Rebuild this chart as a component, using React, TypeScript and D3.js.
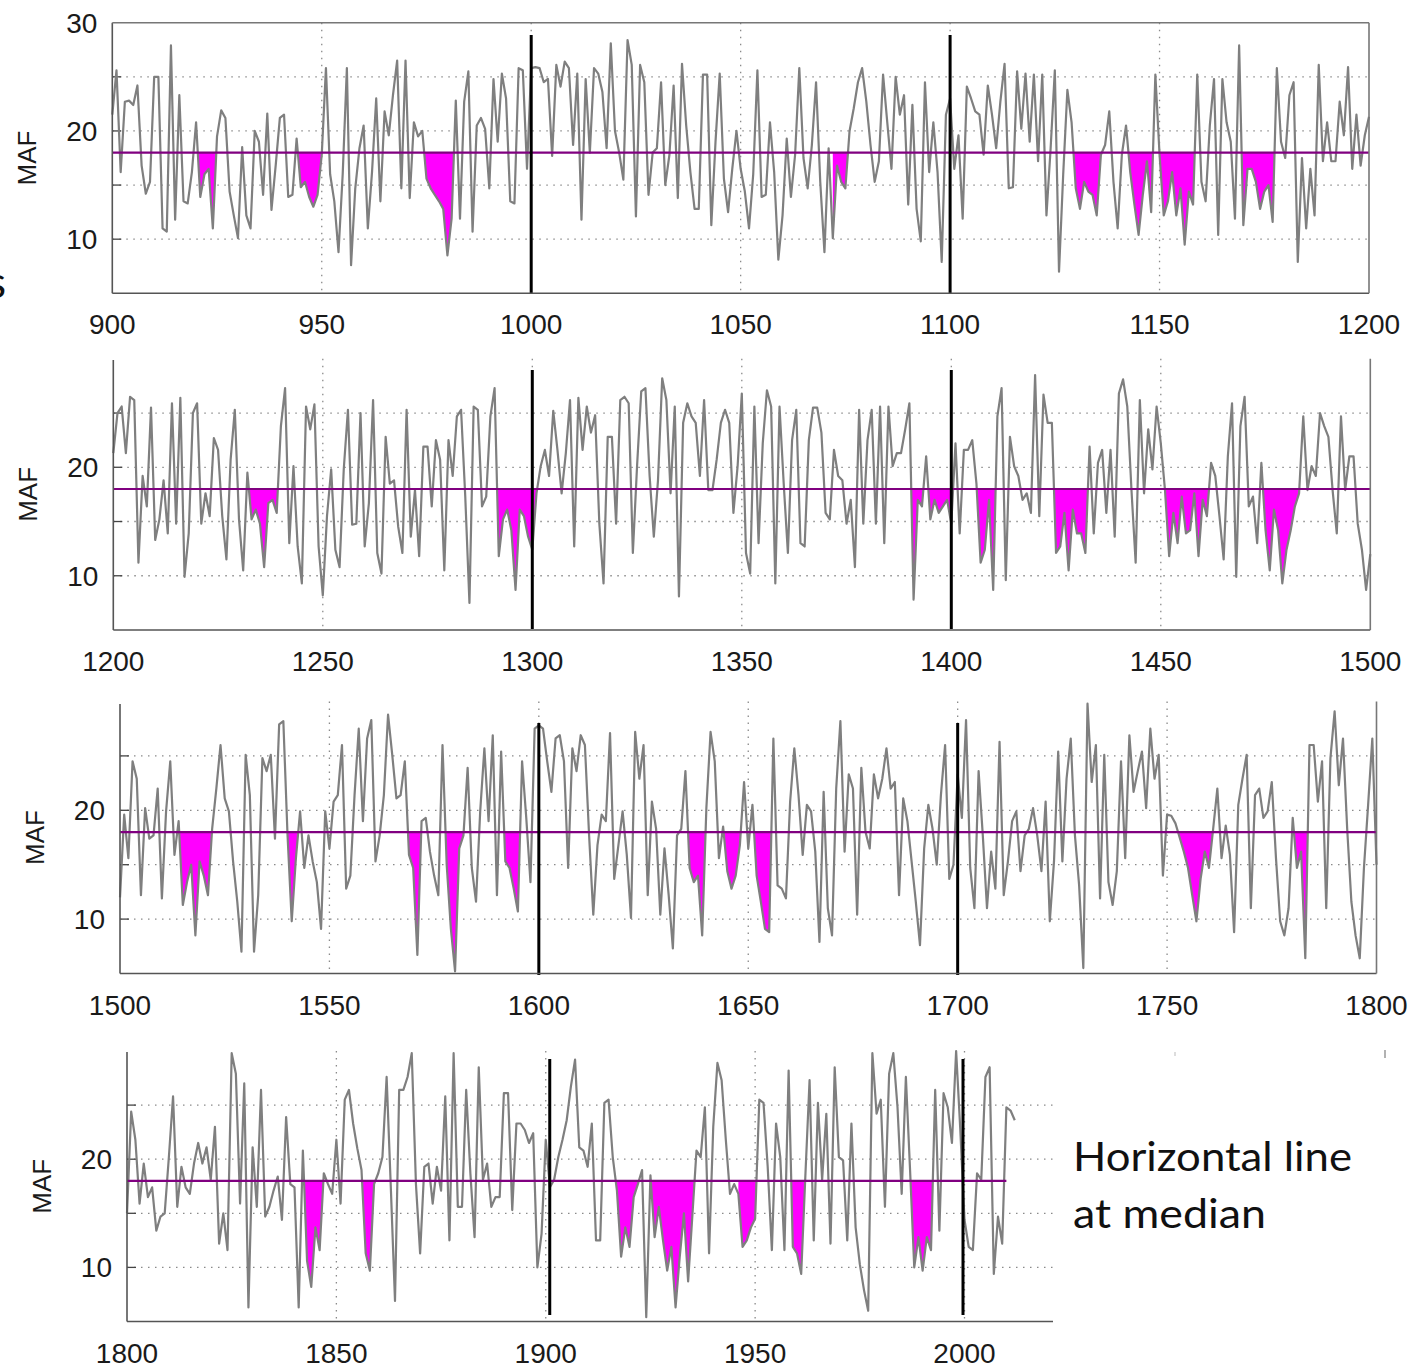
import React from 'react';
import * as d3 from 'd3';

// Annual flow (MAF), one value per year
const flow0900s = [
  21.5, 25.6, 16.2, 22.7, 22.8, 22.4, 24.2, 16.8, 14.2, 15.3,
  25.0, 25.0, 11.0, 10.7, 27.9, 11.8, 23.3, 13.5, 13.3, 16.2,
  20.8, 13.9, 16.0, 16.5, 11.0, 19.5, 21.9, 21.2, 14.4, 12.2,
  10.1, 18.5, 12.2, 11.0, 20.0, 19.0, 14.1, 21.6, 12.7, 16.8,
  21.2, 21.5, 13.9, 14.1, 19.3, 14.8, 15.3, 13.9, 13.0, 14.1,
  17.8, 25.8, 16.0, 13.5, 8.8, 16.0, 25.8, 7.6, 14.7, 18.4,
  20.5, 11.0, 16.2, 23.0, 13.5, 21.8, 19.6, 23.3, 26.5, 14.7,
  26.5, 13.8, 20.8, 19.5, 20.0, 15.6, 14.7, 14.1, 13.5, 12.8,
  8.5, 11.9, 22.8, 11.9, 22.7, 25.5, 10.7, 20.5, 21.2, 20.2,
  14.7, 24.8, 19.0, 25.3, 23.0, 13.5, 13.3, 25.8, 25.6, 16.5,
];
const flow1000s = [
  25.8, 25.9, 25.8, 24.5, 24.8, 17.7, 26.1, 24.1, 26.4, 25.8,
  18.7, 25.3, 11.8, 24.8, 18.0, 25.8, 25.3, 23.6, 18.4, 28.1,
  20.0, 18.0, 15.5, 28.4, 26.1, 12.1, 26.1, 24.5, 14.1, 18.0,
  18.4, 24.5, 15.0, 17.8, 24.2, 13.8, 26.2, 20.5, 16.2, 12.8,
  12.8, 25.2, 25.2, 11.3, 19.0, 25.3, 15.6, 12.5, 16.5, 20.0,
  16.5, 14.4, 11.0, 16.0, 25.6, 13.9, 14.1, 20.8, 16.2, 8.1,
  12.2, 19.3, 13.9, 17.8, 25.8, 17.5, 14.7, 18.7, 24.5, 15.3,
  8.8, 18.4, 10.1, 16.8, 15.3, 14.7, 20.0, 22.1, 24.5, 25.8,
  22.7, 18.7, 15.3, 17.2, 25.2, 20.8, 16.5, 25.0, 21.5, 23.3,
  13.2, 22.4, 12.8, 9.8, 24.5, 16.2, 20.8, 16.2, 7.9, 21.5,
];
const flow1100s = [
  23.0, 16.5, 19.6, 11.9, 24.1, 23.0, 21.8, 21.5, 17.8, 24.2,
  21.5, 18.4, 22.7, 26.2, 14.7, 14.8, 25.5, 20.2, 25.3, 19.0,
  25.2, 17.2, 25.2, 12.2, 18.4, 25.6, 7.0, 16.0, 23.8, 20.8,
  14.7, 12.8, 15.3, 14.4, 14.1, 12.2, 17.8, 18.7, 21.8, 15.3,
  11.0, 17.8, 20.5, 16.2, 13.2, 10.4, 14.1, 17.2, 12.5, 25.2,
  17.8, 12.2, 13.5, 16.2, 12.2, 14.7, 9.5, 14.4, 13.2, 25.2,
  15.3, 13.5, 20.5, 24.8, 10.4, 24.8, 20.8, 19.0, 11.9, 27.9,
  11.3, 16.5, 16.5, 15.3, 12.8, 14.4, 15.0, 11.6, 25.8, 19.0,
  17.5, 23.3, 24.5, 7.9, 17.5, 11.0, 16.5, 12.2, 26.1, 17.2,
  20.8, 17.2, 17.2, 22.7, 19.6, 25.9, 16.5, 21.5, 16.8, 19.6,
];
const flow1200s = [
  21.3, 25.0, 25.6, 21.3, 26.5, 26.2, 11.2, 19.2, 16.4, 25.5,
  13.3, 15.2, 18.8, 13.9, 25.9, 14.8, 26.4, 9.9, 13.9, 25.0,
  25.9, 14.8, 17.6, 15.5, 22.7, 21.6, 15.5, 11.5, 20.7, 25.3,
  15.2, 10.5, 19.5, 15.2, 16.1, 14.8, 10.8, 16.7, 17.0, 15.8,
  23.8, 27.3, 13.0, 20.1, 12.7, 9.3, 25.6, 23.5, 25.8, 12.7,
  8.2, 15.5, 19.8, 12.4, 10.8, 19.8, 25.3, 14.7, 14.8, 25.0,
  12.7, 16.7, 26.2, 12.1, 10.2, 22.8, 18.5, 18.8, 14.5, 12.1,
  25.3, 13.6, 17.9, 11.8, 21.9, 21.9, 16.4, 22.5, 20.7, 10.5,
  22.5, 19.2, 24.7, 25.3, 17.3, 7.5, 25.6, 25.3, 16.4, 17.3,
  24.7, 27.3, 11.8, 15.2, 16.1, 14.2, 8.7, 16.1, 15.5, 13.6,
];
const flow1300s = [
  12.4, 17.6, 20.1, 21.6, 19.2, 25.2, 21.6, 17.6, 21.3, 26.2,
  12.7, 26.4, 21.6, 25.6, 23.2, 24.8, 14.8, 9.3, 22.8, 22.8,
  14.8, 26.2, 26.5, 25.9, 12.1, 20.1, 27.0, 27.3, 19.2, 13.6,
  18.8, 28.2, 26.2, 17.6, 25.6, 8.1, 24.1, 25.9, 24.7, 24.1,
  19.2, 26.2, 17.9, 17.9, 20.7, 24.1, 25.3, 24.1, 15.8, 20.1,
  26.8, 12.1, 10.2, 25.6, 13.0, 22.2, 27.1, 25.6, 9.3, 25.6,
  18.5, 12.1, 22.5, 25.3, 13.0, 12.7, 22.5, 25.5, 25.5, 23.2,
  15.8, 15.2, 21.6, 19.2, 18.8, 14.8, 17.0, 10.8, 25.3, 14.8,
  22.5, 25.3, 14.8, 25.6, 13.0, 25.6, 20.1, 21.3, 21.3, 23.5,
  25.9, 7.8, 17.0, 16.4, 21.0, 15.2, 17.0, 15.8, 16.4, 17.0,
];
const flow1400s = [
  14.8, 22.2, 13.9, 21.6, 21.6, 22.5, 18.5, 11.2, 12.4, 17.0,
  8.7, 24.7, 27.3, 9.6, 22.8, 20.1, 19.2, 17.0, 17.6, 15.8,
  28.5, 15.5, 26.7, 24.1, 24.1, 12.1, 12.7, 15.8, 10.5, 16.1,
  13.9, 13.9, 12.1, 21.9, 13.9, 20.4, 21.6, 15.8, 21.6, 13.6,
  26.8, 28.1, 25.6, 17.9, 11.2, 26.2, 17.6, 23.5, 19.8, 25.6,
  22.2, 17.9, 11.8, 15.8, 13.0, 17.3, 13.9, 14.2, 17.6, 11.8,
  17.0, 15.5, 20.4, 19.2, 15.5, 11.5, 21.0, 25.9, 9.9, 23.8,
  26.5, 16.4, 17.3, 13.0, 20.4, 14.2, 10.5, 16.1, 14.2, 9.3,
  12.4, 14.2, 16.4, 17.6, 24.7, 17.9, 20.1, 19.2, 25.0, 23.8,
  22.8, 17.9, 13.9, 24.7, 17.9, 21.0, 21.0, 14.8, 12.4, 8.7,
];
const flow1500s = [
  12.0, 19.6, 15.6, 24.5, 22.9, 12.2, 20.2, 17.4, 17.7, 22.0,
  11.9, 19.9, 24.5, 15.9, 19.0, 11.3, 13.4, 15.0, 8.5, 15.3,
  14.0, 12.2, 18.3, 22.0, 26.0, 21.1, 19.9, 15.3, 11.6, 7.0,
  25.1, 21.4, 7.0, 12.2, 24.8, 23.6, 25.1, 17.4, 27.9, 28.2,
  17.7, 9.8, 15.6, 19.9, 14.7, 17.7, 15.3, 13.4, 9.1, 19.9,
  16.5, 20.8, 21.4, 26.0, 12.8, 14.0, 21.4, 27.5, 19.0, 26.6,
  28.3, 15.3, 17.7, 21.4, 28.8, 25.1, 21.1, 21.4, 24.5, 15.9,
  14.7, 6.7, 19.0, 19.3, 16.2, 14.0, 12.2, 26.0, 15.0, 9.1,
  5.2, 16.5, 17.7, 23.9, 14.7, 11.6, 19.9, 25.7, 19.0, 26.9,
  12.2, 25.4, 15.3, 14.7, 12.8, 10.7, 24.5, 19.3, 13.4, 27.5,
];
const flow1600s = [
  27.8, 27.5, 24.5, 21.7, 26.6, 26.9, 24.5, 14.7, 25.7, 23.6,
  26.9, 26.0, 17.7, 10.4, 16.8, 19.6, 19.0, 27.1, 13.7, 16.8,
  19.9, 15.9, 10.1, 27.2, 22.9, 26.0, 12.2, 20.8, 18.3, 10.4,
  16.5, 12.2, 7.3, 17.7, 18.3, 23.6, 14.7, 13.4, 14.0, 8.5,
  20.2, 27.2, 24.5, 15.6, 18.5, 14.4, 12.8, 14.0, 16.8, 22.6,
  16.5, 20.5, 14.0, 11.6, 9.1, 8.8, 26.6, 13.1, 12.8, 11.9,
  20.8, 25.7, 21.4, 15.9, 20.5, 19.9, 16.2, 7.9, 21.7, 11.0,
  8.5, 22.0, 28.2, 16.2, 23.3, 22.0, 10.4, 23.9, 18.0, 16.5,
  23.3, 21.1, 22.9, 25.7, 22.0, 22.6, 12.2, 21.1, 19.0, 15.3,
  11.6, 7.6, 16.5, 20.5, 18.3, 15.0, 21.4, 26.0, 13.7, 15.0,
];
const flow1700s = [
  23.3, 19.3, 28.3, 14.7, 11.0, 23.6, 17.7, 11.0, 16.2, 12.8,
  26.3, 12.2, 15.3, 19.0, 19.9, 14.4, 17.7, 18.3, 20.2, 17.7,
  14.4, 20.8, 9.8, 15.3, 25.4, 15.3, 22.9, 26.6, 17.7, 13.1,
  5.5, 29.8, 22.6, 26.0, 11.9, 25.1, 13.4, 11.3, 14.4, 24.5,
  15.6, 26.9, 21.7, 23.6, 25.4, 20.2, 27.5, 22.9, 25.1, 14.0,
  19.6, 19.5, 18.8, 17.5, 16.2, 14.7, 12.2, 9.8, 13.7, 16.2,
  14.7, 18.3, 22.0, 15.6, 18.6, 15.9, 8.8, 20.5, 22.9, 25.1,
  11.0, 21.4, 22.0, 19.3, 19.9, 22.6, 15.6, 9.8, 8.5, 11.0,
  19.3, 14.7, 16.2, 6.4, 26.0, 26.0, 20.8, 24.5, 11.0, 24.8,
  29.1, 22.3, 26.6, 18.3, 11.6, 8.5, 6.4, 14.7, 20.5, 26.6,
];
const flow1800s = [
  15.0, 24.4, 21.8, 15.9, 19.6, 16.5, 17.4, 13.4, 14.7, 15.0,
  20.2, 25.8, 15.6, 19.3, 17.4, 16.8, 19.6, 21.5, 19.6, 21.1,
  18.1, 23.0, 12.2, 15.0, 11.6, 29.8, 27.9, 15.9, 27.0, 6.3,
  21.1, 15.6, 26.4, 14.7, 15.6, 17.1, 18.4, 14.4, 23.9, 17.7,
  17.4, 6.3, 20.8, 10.6, 8.2, 13.7, 11.6, 18.7, 17.7, 16.8,
  21.8, 15.9, 25.5, 26.4, 23.3, 21.0, 19.0, 11.3, 9.7, 17.7,
  18.7, 20.2, 27.6, 17.4, 6.9, 26.4, 26.4, 27.6, 29.8, 17.7,
  11.3, 19.3, 19.6, 15.9, 19.3, 17.1, 25.8, 12.5, 29.8, 15.6,
  15.6, 26.4, 18.7, 12.8, 28.5, 18.1, 19.6, 15.6, 16.5, 16.5,
  26.1, 26.1, 15.3, 23.3, 23.3, 22.7, 21.5, 22.4, 10.0, 13.1,
];
const flow1900s = [
  21.8, 17.4, 18.1, 20.2, 21.8, 23.6, 26.7, 29.2, 21.1, 20.8,
  19.3, 23.3, 12.5, 12.5, 25.2, 25.5, 20.2, 17.1, 11.0, 13.7,
  11.9, 16.5, 17.7, 19.0, 5.4, 18.5, 12.8, 15.6, 12.5, 9.7,
  11.9, 6.3, 11.0, 15.0, 8.7, 14.7, 20.8, 20.2, 24.8, 11.3,
  23.0, 28.9, 27.3, 21.8, 16.8, 17.7, 16.8, 11.9, 12.5, 13.7,
  14.5, 25.5, 25.2, 19.3, 11.6, 23.3, 20.2, 11.6, 28.2, 11.9,
  11.3, 9.4, 18.5, 27.3, 12.5, 25.2, 18.1, 24.2, 12.2, 28.5,
  20.2, 19.9, 12.5, 23.3, 13.7, 10.3, 7.9, 6.0, 29.8, 24.2,
  25.5, 15.6, 27.9, 29.8, 24.8, 16.8, 27.6, 19.0, 10.0, 12.8,
  9.7, 12.8, 11.6, 26.4, 13.4, 26.1, 24.8, 21.5, 30.0, 22.7,
];
const flow2000s = [14.4, 11.9, 11.6, 18.7, 18.1, 27.6, 28.5, 9.4, 14.7, 12.2, 24.8, 24.5, 23.6];

const FIRST_YEAR = 900;
const MEDIAN = 18;

// Drought periods shaded below the median (start year, end year)
const droughts = [
  [920, 925], [944, 951], [974, 982], [1072, 1076],
  [1129, 1137], [1142, 1149], [1149, 1159], [1169, 1178],
  [1232, 1240], [1291, 1302], [1390, 1394], [1394, 1401],
  [1406, 1411], [1424, 1433], [1450, 1462], [1474, 1484],
  [1514, 1523], [1539, 1543], [1568, 1572], [1577, 1583],
  [1591, 1596], [1635, 1640], [1644, 1649], [1651, 1656],
  [1752, 1761], [1780, 1784],
  [1842, 1847], [1856, 1860], [1916, 1923], [1925, 1936],
  [1946, 1951], [1958, 1962], [1987, 1993],
];

const ticksA = [900, 950, 1000, 1050, 1100, 1150, 1200];
const ticksB = [1200, 1250, 1300, 1350, 1400, 1450, 1500];
const ticksC = [1500, 1550, 1600, 1650, 1700, 1750, 1800];
const ticksD = [1800, 1850, 1900, 1950, 2000];
const centuriesA = [1000, 1100];
const centuriesB = [1300, 1400];
const centuriesC = [1600, 1700];
const centuriesD = [1900, 2000];
const yLabelsFirst = [10, 20, 30];
const yLabelsRest = [10, 20];
const gridValues = [10, 15, 20, 25];

const flows = [
  ...flow0900s, ...flow1000s, ...flow1100s, ...flow1200s, ...flow1300s, ...flow1400s,
  ...flow1500s, ...flow1600s, ...flow1700s, ...flow1800s, ...flow1900s, ...flow2000s,
];
const LAST_YEAR = FIRST_YEAR + flows.length - 1;
const val = (y: number) => flows[y - FIRST_YEAR];

type Panel = {
  from: number; domainEnd: number; rangeEnd: number;
  x0: number; y30: number; y5: number;
  axisEnd: number; top: boolean; right: boolean;
  ticks: number[]; centuries: number[]; yLabels: number[];
  blackTop: number; blackBottom: number; blackOffs: number[]; leftTop: number;
  medianEnd: number; dataEnd: number;
};

const panels: Panel[] = [
  { from: 900, domainEnd: 1200, rangeEnd: 1369, x0: 112.3, y30: 22.7, y5: 293.3,
    axisEnd: 1369, top: true, right: true, ticks: ticksA, centuries: centuriesA, yLabels: yLabelsFirst,
    blackTop: 35, blackBottom: 293, blackOffs: [0, 0], leftTop: 22.7, medianEnd: 1200, dataEnd: 1200 },
  { from: 1200, domainEnd: 1500, rangeEnd: 1370.3, x0: 113.3, y30: 358.8, y5: 630,
    axisEnd: 1370.3, top: false, right: true, ticks: ticksB, centuries: centuriesB, yLabels: yLabelsRest,
    blackTop: 370, blackBottom: 629, blackOffs: [0, 0], leftTop: 360, medianEnd: 1500, dataEnd: 1500 },
  { from: 1500, domainEnd: 1800, rangeEnd: 1376.5, x0: 120, y30: 701.5, y5: 973.5,
    axisEnd: 1376.5, top: false, right: true, ticks: ticksC, centuries: centuriesC, yLabels: yLabelsRest,
    blackTop: 723, blackBottom: 975, blackOffs: [0, 0], leftTop: 704, medianEnd: 1800, dataEnd: 1800 },
  { from: 1800, domainEnd: 2000, rangeEnd: 964.5, x0: 127, y30: 1051, y5: 1321.5,
    axisEnd: 1053, top: false, right: false, ticks: ticksD, centuries: centuriesD, yLabels: yLabelsRest,
    blackTop: 1059, blackBottom: 1315, blackOffs: [4, -1.5], leftTop: 1052, medianEnd: 2010, dataEnd: LAST_YEAR },
];

const FONT = "'Liberation Sans', Arial, Helvetica, sans-serif";

function droughtPoints(a: number, b: number) {
  const pts: { x: number; v: number }[] = [];
  for (let y = a; y <= b; y++) {
    const v = val(y);
    if (y > a) {
      const pv = val(y - 1);
      if ((pv - MEDIAN) * (v - MEDIAN) < 0) {
        const t = (MEDIAN - pv) / (v - pv);
        pts.push({ x: y - 1 + t, v: MEDIAN });
      }
    }
    pts.push({ x: y, v: Math.min(v, MEDIAN) });
  }
  return pts;
}

function PanelView({ p }: { p: Panel }) {
  const xs = d3.scaleLinear().domain([p.from, p.domainEnd]).range([p.x0, p.rangeEnd]);
  const ys = d3.scaleLinear().domain([5, 30]).range([p.y5, p.y30]);
  const pts = d3.range(p.from, p.dataEnd + 1).map((y) => ({ year: y, v: val(y) }));
  const line = d3.line<{ year: number; v: number }>().x((d) => xs(d.year)).y((d) => ys(d.v));
  const area = d3.area<{ x: number; v: number }>().x((d) => xs(d.x)).y0(ys(MEDIAN)).y1((d) => ys(d.v));
  const myDroughts = droughts.filter(([a]) => a >= p.from && a < p.dataEnd);
  const xRight = p.axisEnd;
  const midY = (p.y30 + p.y5) / 2;
  const inner = p.ticks.filter((t) => xs(t) > p.x0 + 2 && xs(t) < xRight - 2);
  return (
    <g>
      {gridValues.map((g) => (
        <line key={'h' + g} x1={p.x0} x2={xRight} y1={ys(g)} y2={ys(g)}
          stroke="#8a8a8a" strokeWidth={1.3} strokeDasharray="1.5 5.5" />
      ))}
      {inner.map((t) => (
        <line key={'v' + t} x1={xs(t)} x2={xs(t)} y1={p.y30} y2={p.y5}
          stroke="#8a8a8a" strokeWidth={1.3} strokeDasharray="1.5 5.5" />
      ))}
      {gridValues.map((g) => (
        <line key={'t' + g} x1={p.x0} x2={p.x0 + 9} y1={ys(g)} y2={ys(g)} stroke="#444" strokeWidth={1.3} />
      ))}
      {myDroughts.map(([a, b]) => (
        <path key={'d' + a} d={area(droughtPoints(a, b)) || ''} fill="#ff00ff" />
      ))}
      <path d={line(pts) || ''} fill="none" stroke="#7f7f7f" strokeWidth={2.2} strokeLinejoin="round" />
      <line x1={p.x0} x2={xs(p.medianEnd)} y1={ys(MEDIAN)} y2={ys(MEDIAN)} stroke="#800080" strokeWidth={2.2} />
      {p.centuries.map((c, i) => (
        <line key={'c' + c} x1={xs(c) + p.blackOffs[i]} x2={xs(c) + p.blackOffs[i]} y1={p.blackTop} y2={p.blackBottom}
          stroke="#000" strokeWidth={3} />
      ))}
      <line x1={p.x0} x2={p.x0} y1={p.leftTop} y2={p.y5} stroke="#555" strokeWidth={1.6} />
      <line x1={p.x0} x2={xRight} y1={p.y5} y2={p.y5} stroke="#555" strokeWidth={1.6} />
      {p.top && <line x1={p.x0} x2={xRight} y1={p.y30} y2={p.y30} stroke="#777" strokeWidth={1.6} />}
      {p.right && <line x1={xRight} x2={xRight} y1={p.y30} y2={p.y5} stroke="#777" strokeWidth={1.6} />}
      {p.ticks.map((t) => (
        <text key={'xl' + t} x={xs(t)} y={p.y5 + 41} textAnchor="middle" fontFamily={FONT} fontSize={28} fill="#1a1a1a">
          {t}
        </text>
      ))}
      {p.yLabels.map((v) => (
        <text key={'yl' + v} x={p.x0 - 15} y={ys(v) + 10} textAnchor="end" fontFamily={FONT} fontSize={28} fill="#1a1a1a">
          {v}
        </text>
      ))}
      <text transform={`translate(${p.x0 - 76},${midY}) rotate(-90)`} textAnchor="middle"
        fontFamily={FONT} fontSize={26} fill="#1a1a1a">
        MAF
      </text>
    </g>
  );
}

export default function App() {
  return (
    <svg width={1413} height={1368} style={{ position: 'absolute', left: 0, top: 0, background: '#fff' }}>
      <rect x={0} y={0} width={1413} height={1368} fill="#fff" />
      {panels.map((p) => (
        <PanelView key={p.from} p={p} />
      ))}
      <line x1={1175} x2={1175} y1={1052} y2={1056} stroke="#bbb" strokeWidth={1} />
      <line x1={1385} x2={1385} y1={1050} y2={1058} stroke="#999" strokeWidth={1.5} />
      <text x={-13} y={298} fontFamily="Lato, 'Open Sans', sans-serif" fontSize={44} fill="#111">s</text>
      <text x={1073} y={1171} fontFamily="Lato, 'Open Sans', sans-serif" fontSize={40} fill="#111"
        textLength={279} lengthAdjust="spacingAndGlyphs">Horizontal line</text>
      <text x={1073} y={1228} fontFamily="Lato, 'Open Sans', sans-serif" fontSize={40} fill="#111"
        textLength={193} lengthAdjust="spacingAndGlyphs">at median</text>
    </svg>
  );
}
